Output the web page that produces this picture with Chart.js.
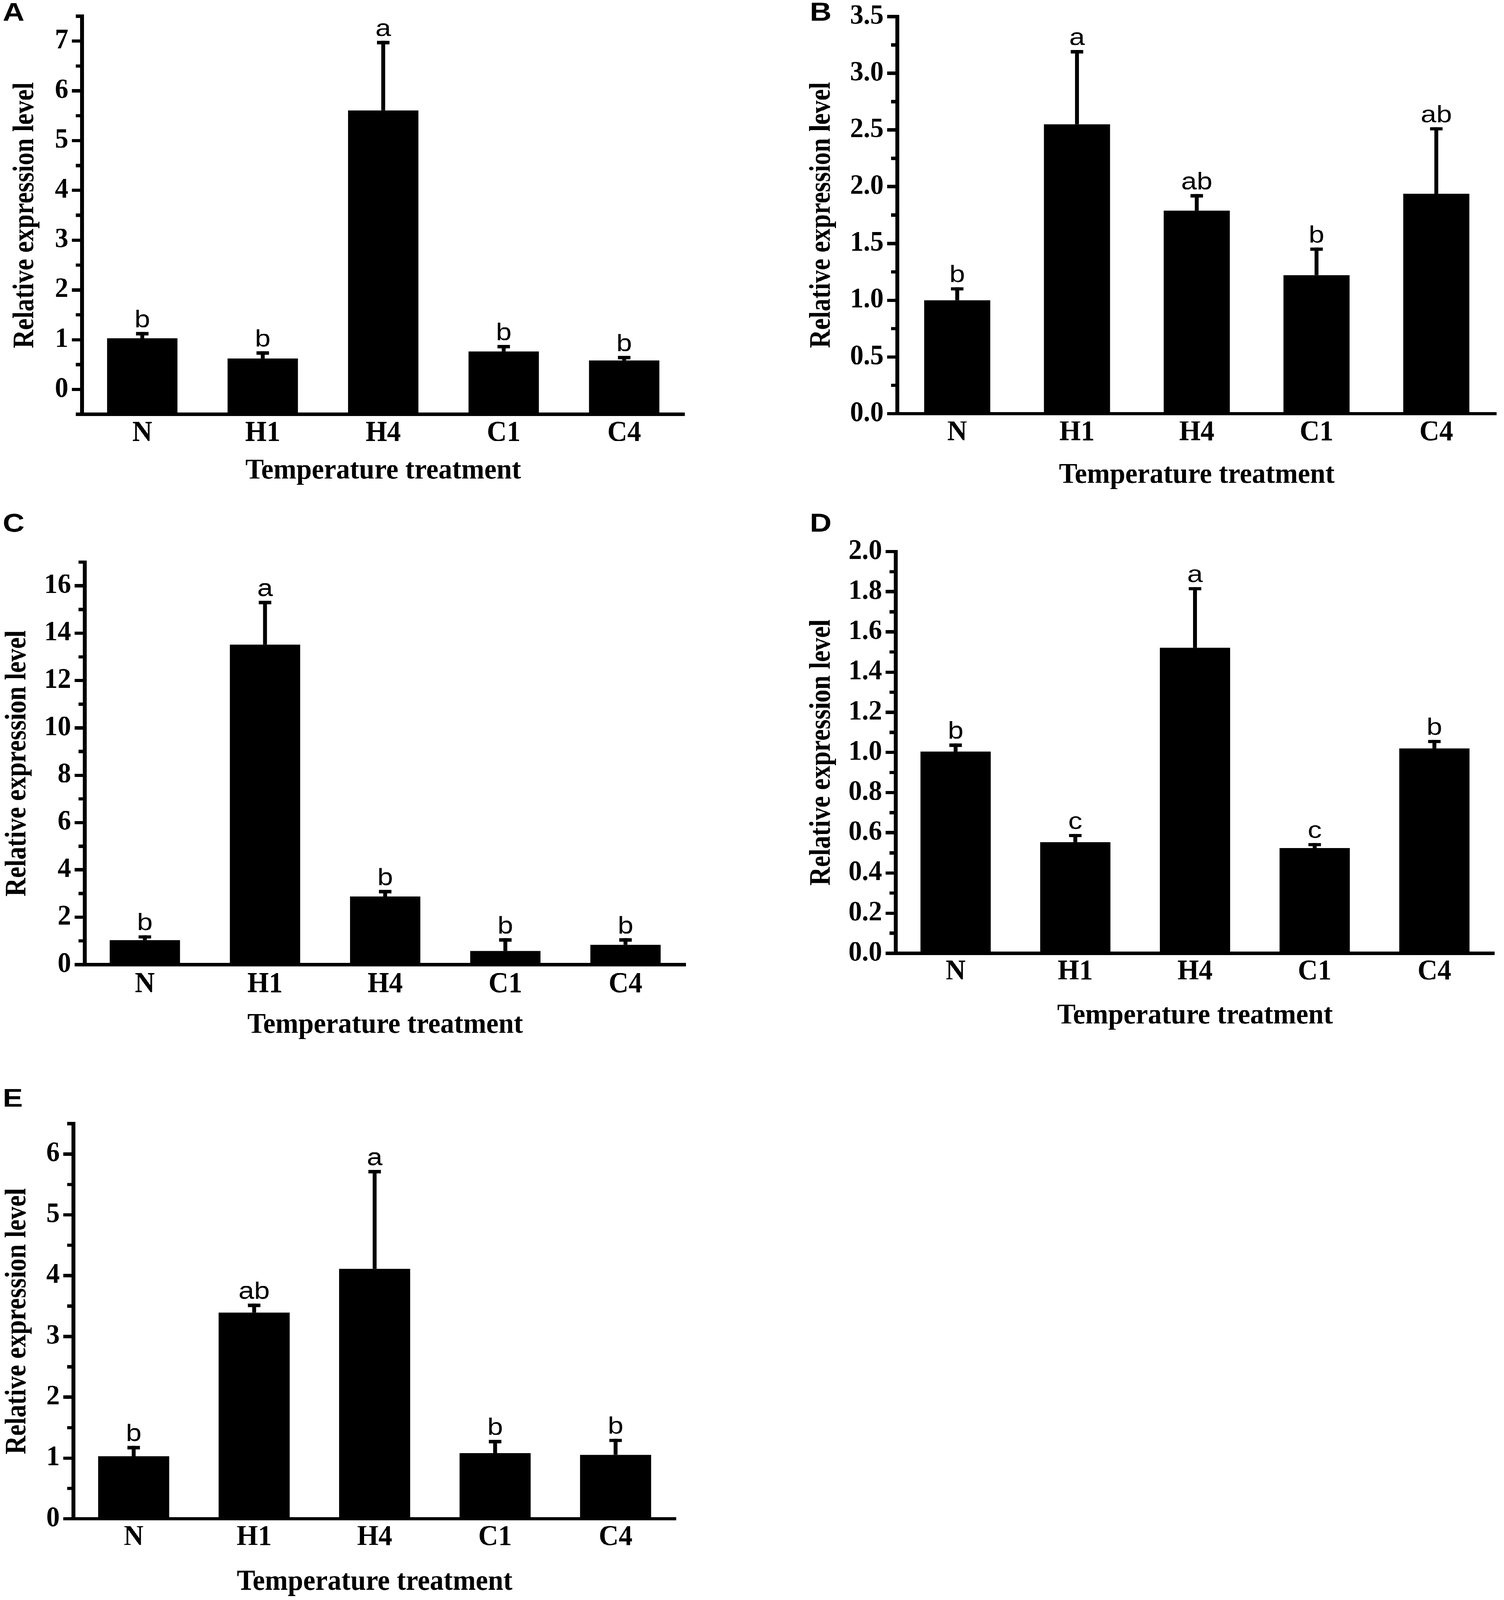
<!DOCTYPE html>
<html>
<head>
<meta charset="utf-8">
<script src="https://cdn.jsdelivr.net/npm/chart.js@4.4.1/dist/chart.umd.min.js"></script>
<style>
html, body { margin: 0; padding: 0; background: #ffffff; overflow: hidden; }
#fig { position: absolute; left: 0; top: 0; width: 3850px; height: 4827px; transform-origin: 0 0; background: #ffffff; }
#fig canvas { position: absolute; }
</style>
</head>
<body>
<div id="fig">
<canvas id="cA"></canvas>
<canvas id="cB"></canvas>
<canvas id="cC"></canvas>
<canvas id="cD"></canvas>
<canvas id="cE"></canvas>
</div>
<script>
// ---------------- DATA ----------------
const categories = ['N', 'H1', 'H4', 'C1', 'C4'];
const xAxisTitle = 'Temperature treatment';
const yAxisTitle = 'Relative expression level';

// Panel A
const valuesA = [1.03, 0.62, 5.61, 0.76, 0.58];
const errorsA = [0.09, 0.11, 1.36, 0.10, 0.06];
const lettersA = ['b', 'b', 'a', 'b', 'b'];
const ticksA = [0, 1, 2, 3, 4, 5, 6, 7];
const tickLabelsA = ['0', '1', '2', '3', '4', '5', '6', '7'];
const minorTicksA = [-0.5, 0.5, 1.5, 2.5, 3.5, 4.5, 5.5, 6.5, 7.5];
const rangeA = [-0.5, 7.5];

// Panel B
const valuesB = [1.00, 2.55, 1.79, 1.22, 1.94];
const errorsB = [0.10, 0.64, 0.13, 0.23, 0.57];
const lettersB = ['b', 'a', 'ab', 'b', 'ab'];
const ticksB = [0, 0.5, 1.0, 1.5, 2.0, 2.5, 3.0, 3.5];
const tickLabelsB = ['0.0', '0.5', '1.0', '1.5', '2.0', '2.5', '3.0', '3.5'];
const minorTicksB = [0.25, 0.75, 1.25, 1.75, 2.25, 2.75, 3.25];
const rangeB = [0, 3.5];

// Panel C
const valuesC = [1.04, 13.51, 2.87, 0.58, 0.83];
const errorsC = [0.13, 1.78, 0.21, 0.46, 0.21];
const lettersC = ['b', 'a', 'b', 'b', 'b'];
const ticksC = [0, 2, 4, 6, 8, 10, 12, 14, 16];
const tickLabelsC = ['0', '2', '4', '6', '8', '10', '12', '14', '16'];
const minorTicksC = [1, 3, 5, 7, 9, 11, 13, 15, 17];
const rangeC = [0, 17];

// Panel D
const valuesD = [1.005, 0.553, 1.521, 0.524, 1.02];
const errorsD = [0.031, 0.033, 0.294, 0.017, 0.034];
const lettersD = ['b', 'c', 'a', 'c', 'b'];
const ticksD = [0, 0.2, 0.4, 0.6, 0.8, 1.0, 1.2, 1.4, 1.6, 1.8, 2.0];
const tickLabelsD = ['0.0', '0.2', '0.4', '0.6', '0.8', '1.0', '1.2', '1.4', '1.6', '1.8', '2.0'];
const minorTicksD = [0.1, 0.3, 0.5, 0.7, 0.9, 1.1, 1.3, 1.5, 1.7, 1.9];
const rangeD = [0, 2.0];

// Panel E
const valuesE = [1.03, 3.39, 4.11, 1.08, 1.05];
const errorsE = [0.14, 0.12, 1.60, 0.19, 0.24];
const lettersE = ['b', 'ab', 'a', 'b', 'b'];
const ticksE = [0, 1, 2, 3, 4, 5, 6];
const tickLabelsE = ['0', '1', '2', '3', '4', '5', '6'];
const minorTicksE = [0.5, 1.5, 2.5, 3.5, 4.5, 5.5, 6.5];
const rangeE = [0, 6.5];

// ---------------- LAYOUT / STYLE ----------------
const FIG_W = 3850, FIG_H = 4827;
const SERIF = "'Liberation Serif', 'Times New Roman', serif";
const SANS = "'Liberation Sans', Arial, sans-serif";
const TICK_FONT = 84, CAT_FONT = 86, XT_FONT = 86, YT_FONT = 77, LETTER_FONT = 72, PANEL_FONT = 77;
const SERIF_CONDENSE = 0.82;
const AXIS_W = 10, MAJOR_LEN = 26, MINOR_LEN = 16, CAP_HALF = 16;

// Fit the whole figure into the actual viewport (the browser may cap the window height).
(function fitFigure() {
  const fig = document.getElementById('fig');
  const sx = (window.innerWidth || FIG_W) / FIG_W;
  const sy = (window.innerHeight || FIG_H) / FIG_H;
  if (Math.abs(sx - 1) > 1e-3 || Math.abs(sy - 1) > 1e-3) {
    fig.style.transform = 'scale(' + sx + ',' + sy + ')';
  }
})();

// The figure's horizontal serif text is set narrow: draw upright serif text condensed.
(function () {
  const proto = CanvasRenderingContext2D.prototype;
  const orig = proto.fillText;
  proto.fillText = function (text, x, y, maxWidth) {
    const t = this.getTransform();
    if (this.font.indexOf('Liberation Serif') >= 0 && Math.abs(t.b) < 1e-6 && Math.abs(t.c) < 1e-6) {
      this.save();
      this.translate(x, y);
      this.scale(SERIF_CONDENSE, 1);
      orig.call(this, text, 0, 0);
      this.restore();
    } else {
      orig.call(this, text, x, y, maxWidth);
    }
  };
})();

const panels = [
  { id: 'cA', label: 'A', values: valuesA, errors: errorsA, letters: lettersA, ticks: ticksA, tickLabels: tickLabelsA, minor: minorTicksA, range: rangeA,
    box: [0, 0, 1925, 1500], yAxisX: 210, axisTop: 49, xAxisY: 1250, xRight: 1752, yTitleX: 65, catY: 1308, xTitleY: 1422, labelPos: [7, 63], barPct: 0.584 },
  { id: 'cB', label: 'B', values: valuesB, errors: errorsB, letters: lettersB, ticks: ticksB, tickLabels: tickLabelsB, minor: minorTicksB, range: rangeB,
    box: [1925, 0, 1925, 1500], yAxisX: 2297, axisTop: 50, xAxisY: 1248, xRight: 3830, yTitleX: 2104, catY: 1306, xTitleY: 1435, labelPos: [2073, 62], barPct: 0.552 },
  { id: 'cC', label: 'C', values: valuesC, errors: errorsC, letters: lettersC, ticks: ticksC, tickLabels: tickLabelsC, minor: minorTicksC, range: rangeC,
    box: [0, 1500, 1925, 1700], yAxisX: 217, axisTop: 1696, xAxisY: 2910, xRight: 1755, yTitleX: 45, catY: 2971, xTitleY: 3094, labelPos: [7, 1604], barPct: 0.585 },
  { id: 'cD', label: 'D', values: valuesD, errors: errorsD, letters: lettersD, ticks: ticksD, tickLabels: tickLabelsD, minor: minorTicksD, range: rangeD,
    box: [1925, 1500, 1925, 1700], yAxisX: 2293, axisTop: 1664, xAxisY: 2876, xRight: 3825, yTitleX: 2104, catY: 2933, xTitleY: 3066, labelPos: [2073, 1604], barPct: 0.587 },
  { id: 'cE', label: 'E', values: valuesE, errors: errorsE, letters: lettersE, ticks: ticksE, tickLabels: tickLabelsE, minor: minorTicksE, range: rangeE,
    box: [0, 3200, 1925, 1627], yAxisX: 188, axisTop: 3390, xAxisY: 4582, xRight: 1730, yTitleX: 45, catY: 4639, xTitleY: 4774, labelPos: [7, 3339], barPct: 0.59 }
];

function makePanel(p) {
  const [L, T, W, H] = p.box;
  const cv = document.getElementById(p.id);
  cv.width = W; cv.height = H;
  cv.style.left = L + 'px'; cv.style.top = T + 'px';
  cv.style.width = W + 'px'; cv.style.height = H + 'px';

  const ytLine = YT_FONT * 1.2, xtLine = XT_FONT * 1.2, catLine = CAT_FONT * 1.2;

  const extras = {
    id: 'extras' + p.id,
    afterDatasetsDraw(chart) {
      const ctx = chart.ctx;
      const y = chart.scales.y;
      const meta = chart.getDatasetMeta(0);
      ctx.save();
      ctx.strokeStyle = '#000';
      ctx.fillStyle = '#000';
      ctx.lineWidth = AXIS_W;
      ctx.lineCap = 'butt';
      meta.data.forEach((bar, i) => {
        const x = bar.x;
        const yb = y.getPixelForValue(p.values[i]);
        const yt = y.getPixelForValue(p.values[i] + p.errors[i]);
        ctx.beginPath(); ctx.moveTo(x, yb); ctx.lineTo(x, yt - AXIS_W / 2); ctx.stroke();
        ctx.beginPath(); ctx.moveTo(x - CAP_HALF, yt); ctx.lineTo(x + CAP_HALF, yt); ctx.stroke();
        ctx.font = LETTER_FONT + 'px ' + SANS;
        ctx.textAlign = 'center';
        ctx.textBaseline = 'alphabetic';
        ctx.fillText(p.letters[i], x, yt - 20);
      });
      ctx.restore();
    },
    afterDraw(chart) {
      const ctx = chart.ctx;
      const y = chart.scales.y;
      const left = chart.chartArea.left;
      ctx.save();
      ctx.strokeStyle = '#000';
      ctx.lineWidth = AXIS_W;
      ctx.lineCap = 'butt';
      p.minor.forEach(v => {
        const py = y.getPixelForValue(v);
        ctx.beginPath(); ctx.moveTo(left - MINOR_LEN, py); ctx.lineTo(left, py); ctx.stroke();
      });
      ctx.fillStyle = '#000';
      ctx.font = 'bold ' + PANEL_FONT + 'px ' + SANS;
      ctx.textAlign = 'left';
      ctx.textBaseline = 'alphabetic';
      ctx.fillText(p.label, p.labelPos[0] - L, p.labelPos[1] - T);
      ctx.restore();
    }
  };

  new Chart(cv, {
    type: 'bar',
    data: {
      labels: categories,
      datasets: [{
        data: p.values,
        backgroundColor: '#000000',
        borderWidth: 0,
        base: p.range[0],
        barPercentage: p.barPct,
        categoryPercentage: 1.0
      }]
    },
    options: {
      responsive: false,
      animation: false,
      devicePixelRatio: 1,
      events: [],
      layout: { padding: { left: 0, top: p.axisTop - T, right: (L + W) - p.xRight, bottom: 0 } },
      plugins: { legend: { display: false }, tooltip: { enabled: false }, title: { display: false } },
      scales: {
        x: {
          type: 'category',
          offset: true,
          grid: { display: false, drawTicks: false },
          border: { display: true, width: AXIS_W, color: '#000' },
          ticks: { color: '#000', font: { family: SERIF, size: CAT_FONT, weight: 'bold' },
                   padding: p.catY - p.xAxisY - catLine / 2, maxRotation: 0, autoSkip: false },
          title: { display: true, text: xAxisTitle, color: '#000',
                   font: { family: SERIF, size: XT_FONT, weight: 'bold' },
                   padding: { top: 0, bottom: (T + H) - p.xTitleY - xtLine / 2 } },
          afterFit(s) { s.height = (T + H) - p.xAxisY; s.paddingLeft = 0; s.paddingRight = 0; }
        },
        y: {
          type: 'linear',
          min: p.range[0],
          max: p.range[1],
          bounds: 'data',
          afterBuildTicks(s) { s.ticks = p.ticks.map(v => ({ value: v })); },
          ticks: { color: '#000', font: { family: SERIF, size: TICK_FONT, weight: 'bold' },
                   padding: 9, autoSkip: false, callback: (v, i) => p.tickLabels[i] },
          grid: { display: true, drawOnChartArea: false, drawTicks: true, tickLength: MAJOR_LEN,
                  lineWidth: AXIS_W, tickWidth: AXIS_W, color: '#000', tickColor: '#000' },
          border: { display: true, width: AXIS_W, color: '#000' },
          title: { display: true, text: yAxisTitle, color: '#000',
                   font: { family: SERIF, size: YT_FONT, weight: 'bold' },
                   padding: { top: p.yTitleX - L - ytLine / 2, bottom: 0 } },
          afterFit(s) { s.width = p.yAxisX - L; s.paddingTop = 0; s.paddingBottom = 0; }
        }
      }
    },
    plugins: [extras]
  });
}

panels.forEach(makePanel);
</script>
</body>
</html>
